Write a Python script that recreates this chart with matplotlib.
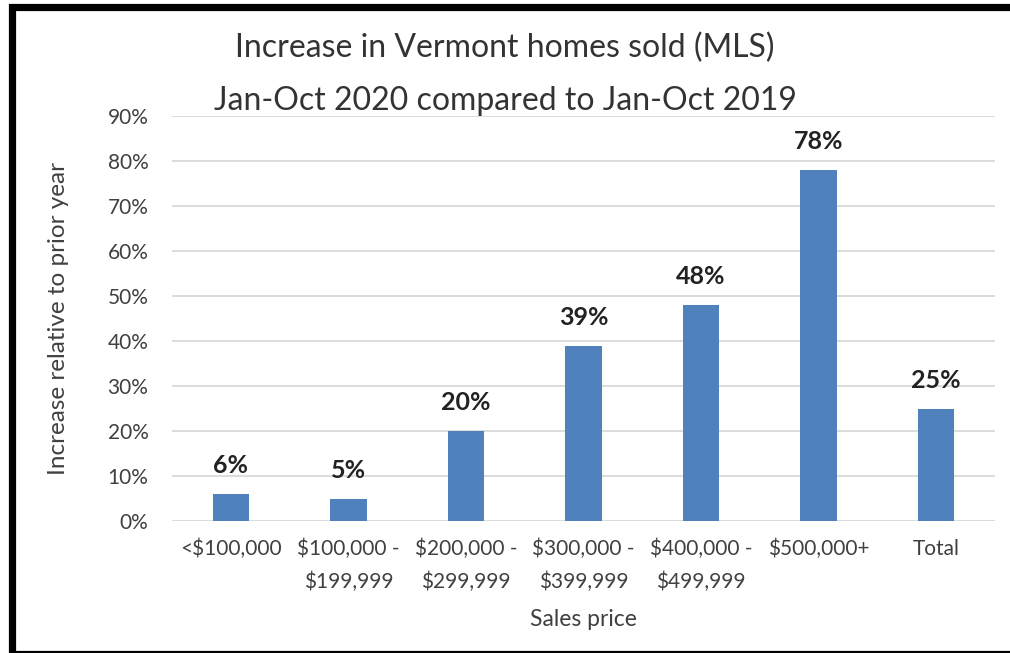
import matplotlib.pyplot as plt
from matplotlib.lines import Line2D
from matplotlib.ticker import FuncFormatter

# price bands and the % increase in homes sold
categories = ['<$100,000', '$100,000 -\n$199,999', '$200,000 -\n$299,999',
              '$300,000 -\n$399,999', '$400,000 -\n$499,999', '$500,000+', 'Total']
increase = [6, 5, 20, 39, 48, 78, 25]
yticks = [0, 10, 20, 30, 40, 50, 60, 70, 80, 90]

plt.rcParams['font.family'] = ['Lato', 'DejaVu Sans']

fig = plt.figure(figsize=(10.1, 6.53), dpi=100)
ax = fig.add_axes([0.1703, 0.2021, 0.8147, 0.6203])

x = range(len(categories))
ax.bar(x, increase, width=0.31, color='#4F81BD', zorder=3)

# value labels above each bar
for xi, v in zip(x, increase):
    ax.annotate(f"{v}%", (xi, v), xytext=(0, 12), textcoords='offset points',
                ha='center', va='bottom', fontsize=18, fontweight='bold', color='#222222')

ax.set_xlim(-0.5, len(categories) - 0.5)
ax.set_ylim(0, 90)
ax.set_yticks(yticks)
ax.yaxis.set_major_formatter(FuncFormatter(lambda v, p: f"{v:.0f}%"))
ax.set_xticks(list(x))
ax.set_xticklabels(categories, linespacing=1.75)
ax.tick_params(axis='y', length=0, pad=17, labelsize=15, labelcolor='#404040')
ax.tick_params(axis='x', length=0, pad=13, labelsize=15, labelcolor='#404040')

ax.grid(axis='y', color='#d9d9d9', linewidth=1.3, zorder=0)
for s in ax.spines.values():
    s.set_visible(False)

ax.set_xlabel('Sales price', fontsize=16.5, color='#404040', labelpad=12)
ax.set_ylabel('Increase relative to prior year', fontsize=17.5, color='#404040', labelpad=28)

fig.text(0.5, 0.886, 'Increase in Vermont homes sold (MLS)\nJan-Oct 2020 compared to Jan-Oct 2019',
         ha='center', va='center', fontsize=23, color='#333333', linespacing=1.95)

# black frame round the chart (open at the right edge)
fig.add_artist(Line2D([1.0, 0.0119, 0.0119, 1.0], [0.990, 0.990, -0.0008, -0.0008],
                      transform=fig.transFigure, color='black', linewidth=5.2,
                      solid_joinstyle='miter', solid_capstyle='butt'))

fig.savefig('out.png', dpi=100)
